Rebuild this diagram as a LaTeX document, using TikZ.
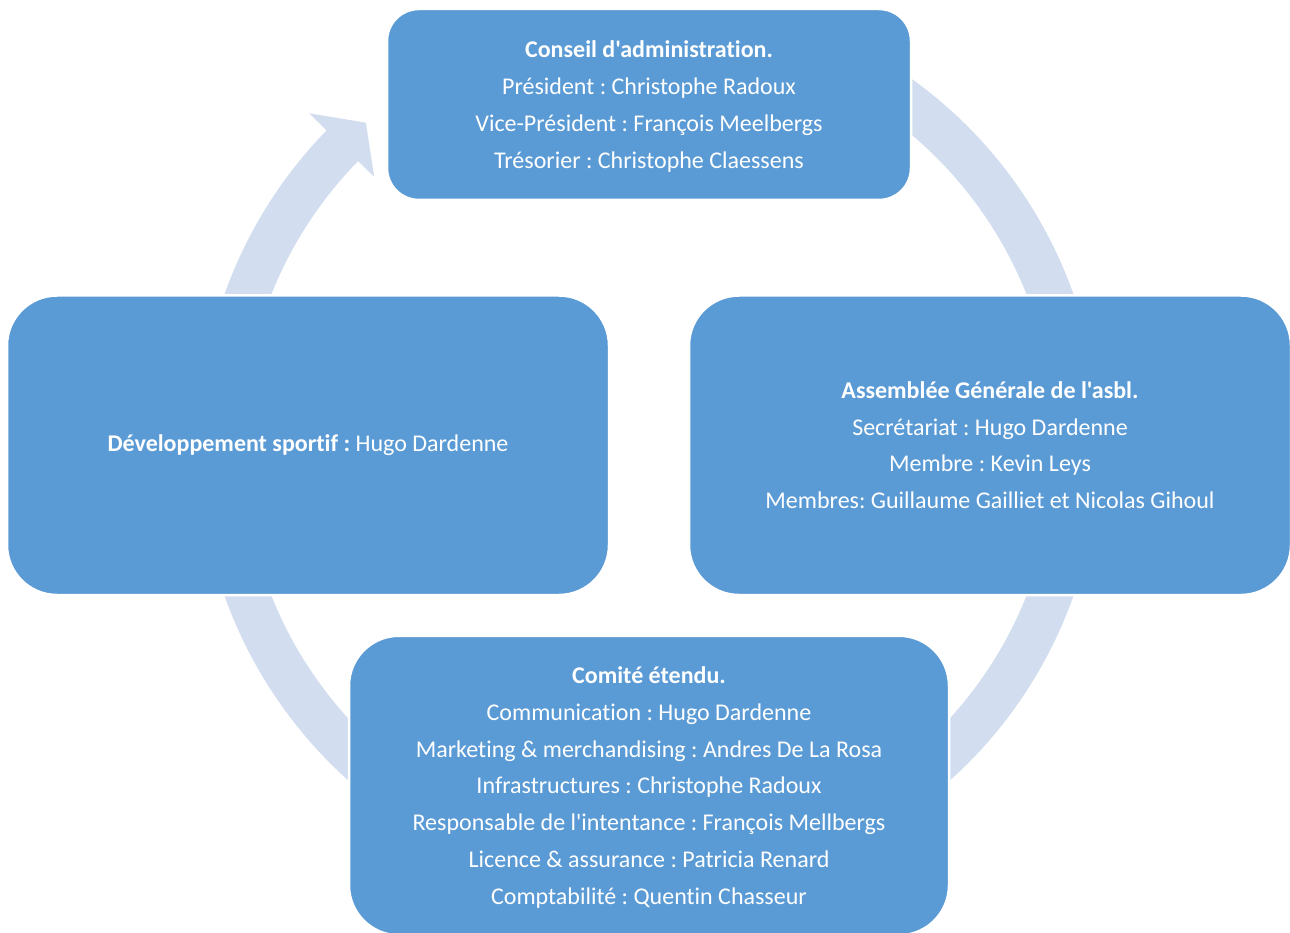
\documentclass[tikz,border=0pt]{standalone}
\usepackage{fontspec}
\newfontfamily\calfont{Carlito}[Ligatures=NoCommon]
\definecolor{boxblue}{HTML}{5B9BD5}
\definecolor{ringblue}{HTML}{D2DEEF}
\begin{document}
\frenchspacing
\begin{tikzpicture}[x=1pt,y=1pt,
  box/.style={draw=white, line width=2.5pt, fill=boxblue, inner sep=0pt},
  bigbox/.style={box, minimum width=602pt, minimum height=299.5pt, rounded corners=50pt},
  boxtext/.style={text=white, align=center, inner sep=0pt,
    font=\calfont\fontsize{24}{36.7}\selectfont}]
\useasboundingbox (0,0) rectangle (1290,-933);
\begin{scope}[shift={(649,-445)}]
\fill[ringblue] (70:450.5) arc[start angle=70, end angle=-224.3, radius=450.5]
  -- (-224.3:475) -- (-228.7:429) -- (-224.3:384) -- (-224.3:406.5)
  arc[start angle=-224.3, end angle=70, radius=406.5] -- cycle;
\end{scope}
\node[box, minimum width=524pt, minimum height=191pt, rounded corners=32pt] (conseil) at (649,-104.5) {};
\node[bigbox] (assemblee) at (990,-445.25) {};
\node[bigbox] (dev) at (308,-445.25) {};
\node[bigbox, minimum width=600pt] (comite) at (649,-785.5) {};
\node[boxtext] (conseiltxt) at ([yshift=-2pt]conseil.center)
  {\textbf{Conseil d'administration.}\\Président : Christophe Radoux\\Vice-Président : François Meelbergs\\Trésorier : Christophe Claessens};
\node[boxtext] (assembleetxt) at (assemblee.center)
  {\textbf{Assemblée Générale de l'asbl.}\\Secrétariat : Hugo Dardenne\\Membre : Kevin Leys\\Membres: Guillaume Gailliet et Nicolas Gihoul};
\node[boxtext] (devtxt) at (dev.center)
  {\textbf{Développement sportif :} Hugo Dardenne};
\node[boxtext] (comitetxt) at ([yshift=-2pt]comite.center)
  {\textbf{Comité étendu.}\\Communication : Hugo Dardenne\\Marketing \& merchandising : Andres De La Rosa\\Infrastructures : Christophe Radoux\\Responsable de l'intentance : François Mellbergs\\Licence \& assurance : Patricia Renard\\Comptabilité : Quentin Chasseur};
\end{tikzpicture}
\end{document}
